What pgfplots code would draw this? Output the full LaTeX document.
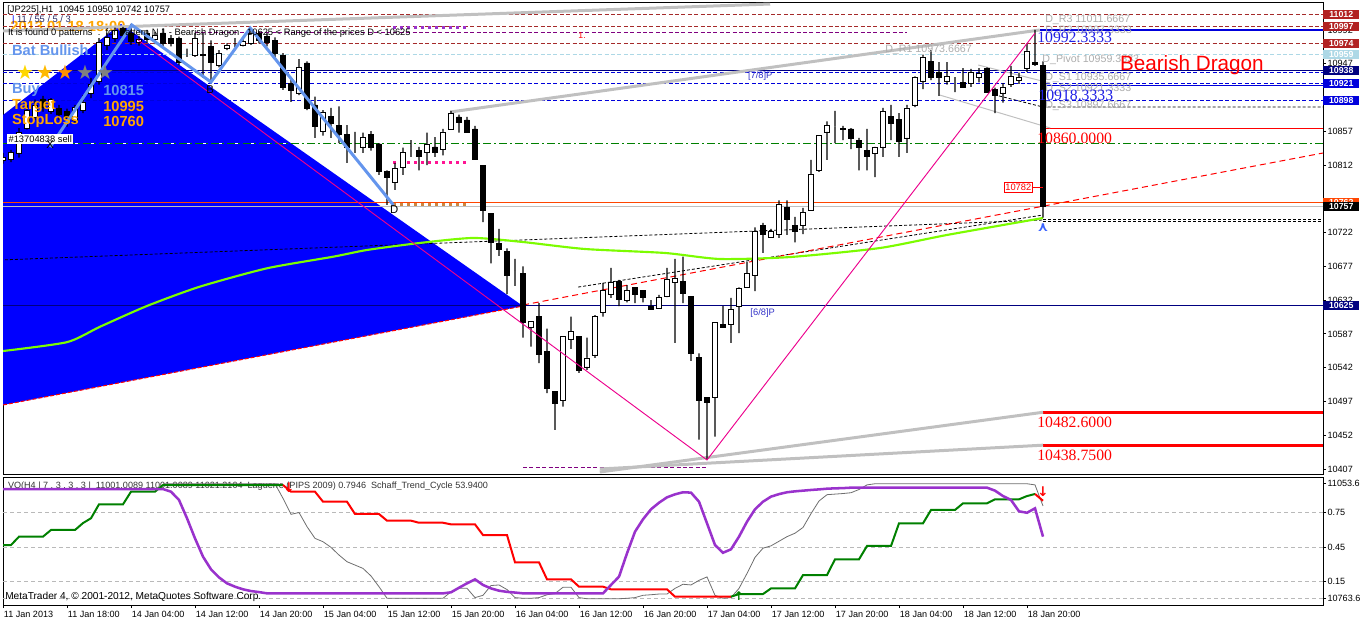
\documentclass[border=0pt]{standalone}
\usepackage{fontspec}
\setmainfont{Liberation Sans}
\newfontfamily\serifnum{Liberation Serif}
\newfontfamily\dv{DejaVu Sans}
\usepackage{pgfplots}
\usepackage{pgfplotstable}
\pgfplotsset{compat=1.18}

\newcommand{\fs}[1]{\fontsize{#1}{#1}\selectfont}

\definecolor{mtdred}{RGB}{165,42,42}
\definecolor{boxred}{RGB}{178,34,34}
\definecolor{lblue}{RGB}{173,216,230}
\definecolor{mtnavy}{RGB}{0,0,128}
\definecolor{mtblue}{RGB}{0,0,220}
\definecolor{zig}{RGB}{100,149,237}
\definecolor{lime}{RGB}{124,252,0}
\definecolor{mtgreen}{RGB}{0,128,0}
\definecolor{mtorange}{RGB}{255,69,0}
\definecolor{mtpurple}{RGB}{153,50,204}
\definecolor{dpurple}{RGB}{128,0,128}
\definecolor{mtgray}{RGB}{192,192,192}
\definecolor{txtorange}{RGB}{255,165,0}
\definecolor{hotpink}{RGB}{255,20,147}
\definecolor{peru}{RGB}{205,133,63}
\definecolor{lagray}{RGB}{110,110,110}
\definecolor{arrowblue}{RGB}{60,100,255}

% hourly candles, bar index x
\pgfplotstableread{
x o h l c
0 10818 10828 10814 10822
1 10820 10832 10816 10829
2 10828 10861 10822 10855
3 10861 10892 10859 10885
4 10875 10899 10872 10892
5 10900 10904 10883 10889
6 10883 10901 10880 10899
7 10887 10892 10872 10879
8 10883 10887 10863 10876
9 10872 10892 10868 10889
10 10885 10905 10881 10896
11 10907 10928 10901 10919
12 10923 10981 10919 10976
13 10972 10988 10965 10982
14 10981 10995 10976 10992
15 10994 10996 10979 10985
16 10988 11000 10972 10977
17 10975 10984 10971 10980
18 10987 10992 10975 10980
19 10979 10989 10973 10985
20 10988 10994 10969 10974
21 10981 10985 10970 10974
22 10981 10983 10945 10949
23 10961 10967 10956 10961
24 10958 10988 10956 10981
25 10958 10988 10928 10959
26 10970 10978 10922 10949
27 10945 10965 10942 10961
28 10968 10974 10965 10972
29 10975 10981 10969 10975
30 10972 10981 10970 10977
31 10974 10994 10972 10988
32 10987 10990 10974 10978
33 10983 10988 10970 10976
34 10978 10982 10955 10961
35 10958 10961 10912 10915
36 10921 10926 10896 10912
37 10908 10953 10905 10942
38 10948 10950 10885 10888
39 10892 10903 10848 10863
40 10857 10885 10851 10882
41 10877 10888 10848 10868
42 10865 10890 10841 10853
43 10853 10865 10815 10836
44 10840 10856 10828 10840
45 10836 10855 10828 10849
46 10853 10857 10831 10836
47 10840 10841 10799 10804
48 10804 10805 10759 10796
49 10789 10815 10779 10808
50 10809 10835 10799 10829
51 10836 10845 10823 10836
52 10831 10836 10805 10824
53 10829 10855 10812 10840
54 10836 10849 10823 10829
55 10833 10860 10825 10856
56 10860 10884 10860 10881
57 10876 10879 10855 10869
58 10872 10876 10855 10856
59 10860 10864 10819 10819
60 10811 10811 10736 10751
61 10747 10747 10681 10709
62 10707 10727 10691 10700
63 10697 10701 10640 10665
64 10672 10687 10651 10672
65 10667 10677 10582 10602
66 10595 10604 10570 10604
67 10610 10628 10548 10560
68 10564 10594 10508 10515
69 10510 10510 10459 10495
70 10498 10584 10490 10584
71 10580 10610 10567 10590
72 10584 10584 10535 10539
73 10543 10582 10539 10555
74 10559 10612 10555 10610
75 10615 10655 10610 10645
76 10639 10675 10635 10655
77 10657 10659 10624 10633
78 10631 10652 10629 10645
79 10649 10649 10628 10640
80 10645 10645 10629 10635
81 10623 10632 10619 10620
82 10621 10639 10621 10635
83 10637 10675 10636 10660
84 10655 10687 10575 10661
85 10657 10690 10628 10641
86 10637 10637 10551 10561
87 10556 10561 10446 10499
88 10502 10502 10419 10496
89 10502 10602 10450 10602
90 10600 10624 10595 10595
91 10600 10635 10575 10620
92 10624 10649 10588 10648
93 10649 10683 10649 10668
94 10665 10729 10644 10724
95 10731 10735 10695 10720
96 10715 10727 10715 10724
97 10720 10765 10715 10759
98 10755 10765 10719 10740
99 10731 10743 10709 10724
100 10731 10755 10720 10749
101 10752 10819 10752 10800
102 10805 10851 10803 10851
103 10856 10870 10819 10865
104 10863 10884 10841 10863
105 10861 10864 10845 10859
106 10860 10861 10833 10848
107 10845 10848 10805 10836
108 10831 10860 10805 10823
109 10828 10836 10796 10835
110 10836 10888 10823 10883
111 10877 10892 10845 10868
112 10873 10881 10823 10843
113 10848 10892 10828 10888
114 10892 10930 10889 10929
115 10924 10959 10913 10956
116 10950 10965 10925 10929
117 10935 10949 10904 10929
118 10924 10949 10919 10930
119 10925 10929 10909 10925
120 10922 10941 10916 10916
121 10921 10940 10916 10936
122 10929 10941 10922 10934
123 10941 10942 10909 10909
124 10913 10915 10881 10905
125 10908 10921 10895 10916
126 10919 10944 10916 10930
127 10925 10935 10920 10929
128 10941 10974 10936 10964
129 10949 10992 10944 10946
130 10945 10950 10742 10757
}\candles

% indicator window: VQ (v), Schaff trend cycle (s), Laguerre (g)
\pgfplotstableread{
x v s g
0 0.467 0.954 nan
1 0.467 0.954 nan
2 0.54 0.954 nan
3 0.54 0.954 nan
4 0.54 0.954 nan
5 0.54 0.954 nan
6 0.598 0.954 nan
7 0.598 0.954 nan
8 0.598 0.954 nan
9 0.598 0.954 nan
10 0.658 0.954 nan
11 0.70 0.954 nan
12 0.821 0.954 nan
13 0.821 0.954 nan
14 0.821 0.954 nan
15 0.821 0.954 nan
16 0.931 0.954 nan
17 0.931 0.954 nan
18 0.931 0.954 nan
19 0.931 0.954 nan
20 0.989 0.954 1.0
21 0.989 0.931 1.0
22 0.989 0.859 1.0
23 0.989 0.70 1.0
24 0.989 0.525 1.0
25 0.989 0.366 1.0
26 0.989 0.256 1.0
27 0.989 0.186 1.0
28 0.989 0.134 1.0
29 0.989 0.105 1.0
30 0.989 0.082 1.0
31 0.989 0.067 1.0
32 0.989 0.058 1.0
33 0.989 0.047 1.0
34 0.989 0.047 1.0
35 0.989 0.047 0.873
36 0.931 0.047 0.734
37 0.931 0.047 0.75
38 0.931 0.047 0.627
39 0.931 0.047 0.525
40 0.844 0.047 0.496
41 0.844 0.047 0.447
42 0.844 0.047 0.38
43 0.844 0.047 0.322
44 0.737 0.047 0.293
45 0.737 0.047 0.264
46 0.737 0.047 0.198
47 0.737 0.047 0.105
48 0.679 0.047 0.004
49 0.679 0.047 0.004
50 0.679 0.047 0.004
51 0.679 0.047 0.004
52 0.661 0.047 0.004
53 0.661 0.047 0.004
54 0.661 0.047 0.004
55 0.661 0.047 0.004
56 0.647 0.056 0.06
57 0.647 0.096 0.091
58 0.647 0.134 0.091
59 0.647 0.169 0.01
60 0.554 0.12 0.03
61 0.554 0.09 0.115
62 0.554 0.07 0.12
63 0.554 0.06 0.08
64 0.317 0.054 0.01
65 0.317 0.047 0.004
66 0.317 0.047 0.004
67 0.317 0.047 0.01
68 0.169 0.047 0.035
69 0.169 0.047 0.045
70 0.169 0.047 0.1
71 0.169 0.047 0.1
72 0.105 0.047 0.01
73 0.105 0.047 0.0
74 0.105 0.047 0.0
75 0.105 0.047 0.0
76 0.082 0.12 0.0
77 0.082 0.192 0.0
78 0.082 0.395 0.004
79 0.082 0.583 0.01
80 0.082 0.691 0.03
81 0.082 0.778 0.035
82 0.082 0.835 0.041
83 0.082 0.882 0.041
84 0.018 0.908 0.09
85 0.018 0.926 0.126
86 0.018 0.923 0.12
87 0.018 0.844 0.16
88 0.018 0.656 0.19
89 0.018 0.467 0.03
90 0.018 0.40 0.004
91 0.018 0.43 0.01
92 0.041 0.54 0.09
93 0.041 0.67 0.22
94 0.041 0.778 0.36
95 0.041 0.844 0.44
96 0.09 0.888 0.46
97 0.09 0.91 0.5
98 0.09 0.926 0.54
99 0.09 0.934 0.57
100 0.206 0.94 0.62
101 0.206 0.946 0.74
102 0.206 0.951 0.85
103 0.206 0.957 0.905
104 0.343 0.96 0.91
105 0.343 0.962 0.915
106 0.343 0.966 0.922
107 0.343 0.966 0.95
108 0.459 0.966 0.99
109 0.459 0.966 1.0
110 0.459 0.966 1.0
111 0.459 0.966 1.0
112 0.656 0.966 1.0
113 0.656 0.966 1.0
114 0.656 0.966 1.0
115 0.656 0.966 1.0
116 0.772 0.966 1.0
117 0.772 0.966 1.0
118 0.772 0.966 1.0
119 0.772 0.966 1.0
120 0.83 0.966 1.0
121 0.83 0.966 1.0
122 0.83 0.966 1.0
123 0.83 0.966 1.0
124 0.865 0.94 1.0
125 0.865 0.893 1.0
126 0.865 0.859 1.0
127 0.865 0.76 1.0
128 0.893 0.748 1.0
129 0.911 0.786 0.99
130 0.852 0.54 0.807
}\ind

\tikzset{
  pbox/.style={anchor=west, inner sep=0pt, minimum width=27pt, minimum height=6.9pt,
    text=white, font=\bfseries\fs{6.6}},
  hl/.style={line width=0.6pt, dash pattern=on 3pt off 1.8pt},
}
\pgfplotsset{
  mainpos/.style={at={(2.25pt,111pt)}, anchor=south west, scale only axis,
    width=990pt, height=353.25pt, xmin=0, xmax=165, ymin=10400.34, ymax=11027.85},
}

\begin{document}
\begin{tikzpicture}
\useasboundingbox (0,0) rectangle (1020pt,466.5pt);

% ---------------- main window: background objects
\begin{axis}[mainpos,
  axis line style={line width=0.75pt, black},
  xtick=\empty,
  ytick={10407,10452,...,10992},
  yticklabels={10407,10452,10497,10542,10587,10632,10677,10722,,10812,10857,,10947,10992},
  ytick pos=right, yticklabel pos=right,
  tick align=outside, major tick length=2.25pt,
  tick style={black, line width=0.6pt},
  yticklabel style={font=\fs{6.8}, anchor=west, inner sep=0pt, xshift=1pt},
]
\addplot[fill=blue, draw=none] coordinates {(0,10878.6) (14.75,10999.9) (65,10624.1) (0,10492.3)} --cycle;
\addplot[red, dash pattern=on 3pt off 1.5pt, line width=0.75pt] coordinates {(0,10492.3) (65,10624.1)};

\node[anchor=west, inner sep=0pt, text=txtorange, font=\bfseries\fs{11}] at (axis cs:0.9,10996) {2013.01.18 18:00};

% horizontal levels
\addplot[mtdred, hl] coordinates {(0,11012) (165,11012)};
\addplot[mtdred, hl] coordinates {(0,10997) (165,10997)};
\addplot[mtdred, hl] coordinates {(0,10974) (165,10974)};
\addplot[lblue, hl] coordinates {(0,10959) (165,10959)};
\addplot[mtnavy, line width=0.75pt] coordinates {(0,10938) (165,10938)};
\addplot[mtblue, hl] coordinates {(0,10935.5) (165,10935.5)};
\addplot[mtblue, hl] coordinates {(0,10921) (165,10921)};
\addplot[mtblue, hl] coordinates {(0,10898) (165,10898)};
\addplot[white, line width=0.75pt, dash pattern=on 3pt off 3pt] coordinates {(0,10840) (36,10840)};
\addplot[mtgreen, line width=0.75pt, dash pattern=on 6pt off 2.25pt on 1.5pt off 2.25pt] coordinates {(0,10840) (165,10840)};
\addplot[mtorange, line width=0.75pt] coordinates {(0,10762) (165,10762)};
\addplot[mtgray, line width=0.75pt] coordinates {(0,10757) (165,10757)};
\addplot[mtnavy, line width=0.75pt] coordinates {(0,10625) (165,10625)};
\addplot[dpurple, hl] coordinates {(24,10989) (113,10989)};
\addplot[dpurple, hl] coordinates {(65,10409) (88,10409)};

% trade levels of the pattern
\addplot[mtpurple, line width=2.25pt, dash pattern=on 2.25pt off 3pt] coordinates {(48.75,10995) (58.1,10995)};
\addplot[hotpink, line width=2.25pt, dash pattern=on 2.25pt off 3pt] coordinates {(48.75,10815) (58.1,10815)};
\addplot[peru, line width=2.25pt, dash pattern=on 2.25pt off 3pt] coordinates {(48.75,10760) (58.1,10760)};

% levels to the right of the last bar
\addplot[mtblue, line width=1.5pt] coordinates {(129.6,10992.33) (165,10992.33)};
\addplot[mtblue, line width=0.75pt] coordinates {(129.6,10918.33) (165,10918.33)};
\addplot[red, line width=0.75pt] coordinates {(129.6,10860) (165,10860)};
\addplot[red, line width=2.25pt] coordinates {(130,10482.6) (165,10482.6)};
\addplot[red, line width=2.25pt] coordinates {(130,10438.75) (165,10438.75)};
\addplot[black, line width=0.6pt, dash pattern=on 2.25pt off 1.5pt] coordinates {(124.5,10904) (130,10889.3) (165,10889.3)};
\addplot[black, line width=0.6pt, dash pattern=on 2.25pt off 1.5pt] coordinates {(130,10739.5) (165,10739.5)};
\addplot[black, line width=0.6pt, dash pattern=on 2.25pt off 1.5pt] coordinates {(130,10736.5) (165,10736.5)};

% channels and trend lines
\addplot[mtgray, line width=2.25pt] coordinates {(-0.4,10990.5) (95.9,11026.5)};
\addplot[mtgray, line width=2.25pt] coordinates {(55.9,10882.6) (129.6,10991.9)};
\addplot[mtgray, line width=2.25pt] coordinates {(74.6,10403) (130,10482.6)};
\addplot[mtgray, line width=2.25pt] coordinates {(74.6,10407) (130,10438.75)};
\addplot[mtgray, line width=0.75pt] coordinates {(117.1,10905.2) (130.9,10861.3)};
\addplot[mtgray, line width=0.75pt] coordinates {(121.9,10945.2) (130.9,10921.2)};
\addplot[black, line width=0.6pt, dash pattern=on 2.25pt off 1.5pt] coordinates {(-0.4,10685.4) (130,10738.7)};
\addplot[black, line width=0.6pt, dash pattern=on 2.25pt off 1.5pt] coordinates {(71.9,10649.4) (130,10745.4)};
\addplot[red, line width=0.75pt, dash pattern=on 4.5pt off 3pt] coordinates {(65,10625.5) (165,10828)};

% moving average
\addplot[lime, line width=1.6pt, smooth, tension=0.4] coordinates {
(0,10564.2) (8,10576) (12.1,10596.4) (18,10624.2) (24.6,10649.9) (33,10674.4)
(41.3,10689.9) (45.5,10698.8) (52,10708) (58.75,10714.8) (65,10709.4) (72.75,10700.1)
(82.75,10694.8) (89.6,10686.8) (98.4,10689.4) (109.6,10701.4) (118,10718.8) (130,10741.4)};
\end{axis}

% ---------------- candles (stacked: low, lower wick, white body, black body, upper wick)
\begin{axis}[mainpos, hide axis, ybar stacked]
\addplot[draw=none, fill=none, bar width=0.75pt] table[x=x, y=l] \candles;
\addplot[fill=black, draw=none, bar width=0.8pt] table[x=x, y expr={min(\thisrow{o},\thisrow{c})-\thisrow{l}}] \candles;
\addplot[fill=white, draw=black, line width=0.6pt, bar width=3.6pt] table[x=x, y expr={max(\thisrow{c}-\thisrow{o},0)}] \candles;
\addplot[fill=black, draw=black, line width=0.6pt, bar width=3.6pt] table[x=x, y expr={max(\thisrow{o}-\thisrow{c},0)}] \candles;
\addplot[fill=black, draw=none, bar width=0.8pt] table[x=x, y expr={\thisrow{h}-max(\thisrow{o},\thisrow{c})}] \candles;
\end{axis}

% ---------------- main window: pattern drawing, labels, price boxes
\begin{axis}[mainpos, hide axis, clip=false]
\addplot[zig, line width=2.25pt] coordinates {(5.9,10836) (16.1,10998.5) (26,10922.5) (30.9,10994.5) (48.8,10758.7)};
\addplot[magenta, line width=0.7pt] coordinates {(16.9,10978.5) (88,10419) (129,10987.8)};
\addplot[red, line width=0.6pt] coordinates {(128.75,10782) (130,10782)};
\addplot[only marks, mark=text, text mark={\textcolor{arrowblue}{\dv\bfseries\fs{10}⋏}}] coordinates {(130,10729)};

\node[anchor=west, inner sep=0pt, font=\fs{7}] at (axis cs:0.5,11018.5) {[JP225],H1\ \ 10945 10950 10742 10757};
\node[anchor=west, inner sep=0pt, font=\fs{7}, text={rgb,255:red,40;green,40;blue,100}] at (axis cs:1.1,11005.2) {\textcolor{blue}{|} 11 / 55 / 5 / 3};
\node[anchor=west, inner sep=0pt, font=\fs{7}] at (axis cs:0.6,10987.8) {It is found 0 patterns\ \ .\ \ for Pattern N 1 - Bearish Dragon\ \ \ 10625 < Range of the prices D < 10625};

\node[anchor=west, inner sep=0pt, text=zig, font=\bfseries\fs{11}] at (axis cs:1.1,10965.2) {Bat Bullish};
\node[inner sep=0pt, font=\dv\fs{15}, text={rgb,255:red,255;green,215;blue,0}] at (axis cs:2.75,10935.9) {★};
\node[inner sep=0pt, font=\dv\fs{15}, text={rgb,255:red,255;green,185;blue,0}] at (axis cs:5.25,10935.9) {★};
\node[inner sep=0pt, font=\dv\fs{15}, text={rgb,255:red,255;green,145;blue,0}] at (axis cs:7.75,10935.9) {★};
\node[inner sep=0pt, font=\dv\fs{15}, text={rgb,255:red,128;green,128;blue,128}] at (axis cs:10.25,10935.9) {★};
\node[inner sep=0pt, font=\dv\fs{15}, text={rgb,255:red,128;green,128;blue,128}] at (axis cs:12.75,10935.9) {★};
\node[anchor=west, inner sep=0pt, text=zig, font=\bfseries\fs{11}] at (axis cs:1.1,10911.9) {Buy};
\node[anchor=west, inner sep=0pt, text=zig, font=\bfseries\fs{11}] at (axis cs:12.5,10911.9) {10815};
\node[anchor=west, inner sep=0pt, text=txtorange, font=\bfseries\fs{11}] at (axis cs:1.1,10890.6) {Target};
\node[anchor=west, inner sep=0pt, text=txtorange, font=\bfseries\fs{11}] at (axis cs:12.5,10890.6) {10995};
\node[anchor=west, inner sep=0pt, text=txtorange, font=\bfseries\fs{11}] at (axis cs:1.1,10870.6) {StopLoss};
\node[anchor=west, inner sep=0pt, text=txtorange, font=\bfseries\fs{11}] at (axis cs:12.5,10870.6) {10760};
\node[anchor=west, fill=white, inner sep=1pt, font=\fs{7}] at (axis cs:0.5,10846.6) {\#13704838 sell};
\node[font=\fs{8.5}] at (axis cs:5.9,10838.7) {X};
\node[font=\fs{8.5}] at (axis cs:25.9,10913) {B};
\node[font=\fs{8.5}] at (axis cs:48.9,10752) {D};
\node[anchor=west, inner sep=0pt, text=red, font=\fs{6.5}] at (axis cs:71.9,10983.9) {1.};
\node[anchor=west, inner sep=0pt, text={rgb,255:red,50;green,50;blue,200}, font=\fs{7}] at (axis cs:93.1,10930.6) {[7/8]P};
\node[anchor=west, inner sep=0pt, text={rgb,255:red,50;green,50;blue,200}, font=\fs{7}] at (axis cs:93.4,10614.8) {[6/8]P};

% daily pivots
\node[anchor=west, inner sep=0pt, text=mtgray!90!black, font=\fs{8}] at (axis cs:130.25,11005.2) {D\_R3 11011.6667};
\node[anchor=west, inner sep=0pt, text=mtgray!90!black, font=\fs{8}] at (axis cs:130.25,10990.5) {D\_R2 10997.3333};
\node[anchor=west, inner sep=0pt, text=mtgray!90!black, font=\fs{8}] at (axis cs:110.25,10965.2) {D\_R1 10973.6667};
\node[anchor=west, inner sep=0pt, text=mtgray!90!black, font=\fs{8}] at (axis cs:129.9,10951.9) {D\_Pivot 10959.3333};
\node[anchor=west, inner sep=0pt, text=mtgray!90!black, font=\fs{8}] at (axis cs:130.25,10927.9) {D\_S1 10935.6667};
\node[anchor=west, inner sep=0pt, text=mtgray!90!black, font=\fs{8}] at (axis cs:130.25,10913.3) {D\_S2 10921.3333};
\node[anchor=west, inner sep=0pt, text=mtgray!90!black, font=\fs{8}] at (axis cs:130.25,10890.6) {D\_S3 10897.6667};

\node[anchor=west, inner sep=0pt, text={rgb,255:red,30;green,30;blue,230}, font=\serifnum\fs{11.8}] at (axis cs:129.25,10982.5) {10992.3333};
\node[anchor=west, inner sep=0pt, text={rgb,255:red,30;green,30;blue,230}, font=\serifnum\fs{11.8}] at (axis cs:129.4,10905.2) {10918.3333};
\node[anchor=west, inner sep=0pt, text=red, font=\serifnum\fs{11.8}] at (axis cs:129.25,10848) {10860.0000};
\node[anchor=west, inner sep=0pt, text=red, font=\serifnum\fs{11.8}] at (axis cs:129.25,10468.5) {10482.6000};
\node[anchor=west, inner sep=0pt, text=red, font=\serifnum\fs{11.8}] at (axis cs:129.25,10425) {10438.7500};
\node[anchor=west, inner sep=0pt, text=red, font=\fs{15.5}] at (axis cs:139.6,10945.2) {Bearish Dragon};
\node[anchor=east, draw=red, fill=white, text=red, line width=0.6pt, inner sep=1pt, font=\fs{7}] at (axis cs:128.75,10782) {10782};

% price boxes on the scale
\node[pbox, fill=boxred] at (axis cs:165,11012) {11012};
\node[pbox, fill=boxred] at (axis cs:165,10997) {10997};
\node[pbox, fill=boxred] at (axis cs:165,10974) {10974};
\node[pbox, fill=lblue] at (axis cs:165,10959) {10959};
\node[pbox, fill=mtnavy] at (axis cs:165,10938) {10938};
\node[pbox, fill=mtblue] at (axis cs:165,10921) {10921};
\node[pbox, fill=mtblue] at (axis cs:165,10898) {10898};
\node[pbox, fill=mtorange] at (axis cs:165,10762) {10762};
\node[pbox, fill=black] at (axis cs:165,10757) {10757};
\node[pbox, fill=mtnavy] at (axis cs:165,10625) {10625};
\end{axis}

% ---------------- indicator window
\begin{axis}[at={(2.25pt,12.75pt)}, anchor=south west, scale only axis,
  width=990pt, height=96pt, xmin=0, xmax=165, ymin=-0.0543, ymax=1.0587,
  axis line style={line width=0.75pt, black},
  xtick={0,8,...,128},
  xticklabels={11 Jan 2013,11 Jan 18:00,14 Jan 04:00,14 Jan 12:00,14 Jan 20:00,15 Jan 04:00,15 Jan 12:00,15 Jan 20:00,16 Jan 04:00,16 Jan 12:00,16 Jan 20:00,17 Jan 04:00,17 Jan 12:00,17 Jan 20:00,18 Jan 04:00,18 Jan 12:00,18 Jan 20:00},
  ytick={0,0.15,0.45,0.75,1},
  yticklabels={10763.6,0.15,0.45,0.75,11053.6},
  xtick pos=bottom, ytick pos=right, yticklabel pos=right,
  tick align=outside, major tick length=2.25pt,
  tick style={black, line width=0.6pt},
  xticklabel style={font=\fs{6.8}, anchor=north west, inner sep=0pt, xshift=0.5pt, yshift=-2.5pt},
  yticklabel style={font=\fs{6.8}, anchor=west, inner sep=0pt, xshift=1pt},
]
\addplot[gray!55, line width=0.6pt, dash pattern=on 3pt off 2.25pt] coordinates {(0,0.75) (165,0.75)};
\addplot[gray!55, line width=0.6pt, dash pattern=on 3pt off 2.25pt] coordinates {(0,0.45) (165,0.45)};
\addplot[gray!55, line width=0.6pt, dash pattern=on 3pt off 2.25pt] coordinates {(0,0.15) (165,0.15)};
\addplot[gray!55, line width=0.6pt, dash pattern=on 3pt off 2.25pt] coordinates {(0,0) (165,0)};

\node[anchor=west, inner sep=0pt, font=\fs{6.8}, text={rgb,255:red,50;green,50;blue,50}] at (axis cs:0.6,0.98) {VQ(H4 | 7 , 3 , 3 , 3 |\ \ 11001.0089 11001.0089 11021.2104\ \ Laguerre (PIPS 2009) 0.7946\ \ Schaff\_Trend\_Cycle 53.9400};
\node[anchor=west, inner sep=0pt, font=\fs{7.6}] at (axis cs:0.25,0.02) {MetaTrader 4, © 2001-2012, MetaQuotes Software Corp.};

\addplot[lagray, line width=0.6pt] table[x=x, y=g] \ind;
\addplot[mtgreen, line width=1.5pt, restrict x to domain=0:35] table[x=x, y=v] \ind;
\addplot[red, line width=1.5pt, restrict x to domain=35:91] table[x=x, y=v] \ind;
\addplot[mtgreen, line width=1.5pt, restrict x to domain=91:129] table[x=x, y=v] \ind;
\addplot[red, line width=1.5pt, restrict x to domain=129:130] table[x=x, y=v] \ind;
\addplot[mtpurple, line width=1.9pt] table[x=x, y=s] \ind;

\addplot[only marks, mark=text, text mark={\textcolor{red}{\dv\bfseries\fs{10}↓}}] coordinates {(35.75,0.97) (130,0.93)};
\addplot[only marks, mark=text, text mark={\textcolor{mtgreen}{\dv\bfseries\fs{9}↑}}] coordinates {(92,0.02)};
\end{axis}
\end{tikzpicture}
\end{document}
